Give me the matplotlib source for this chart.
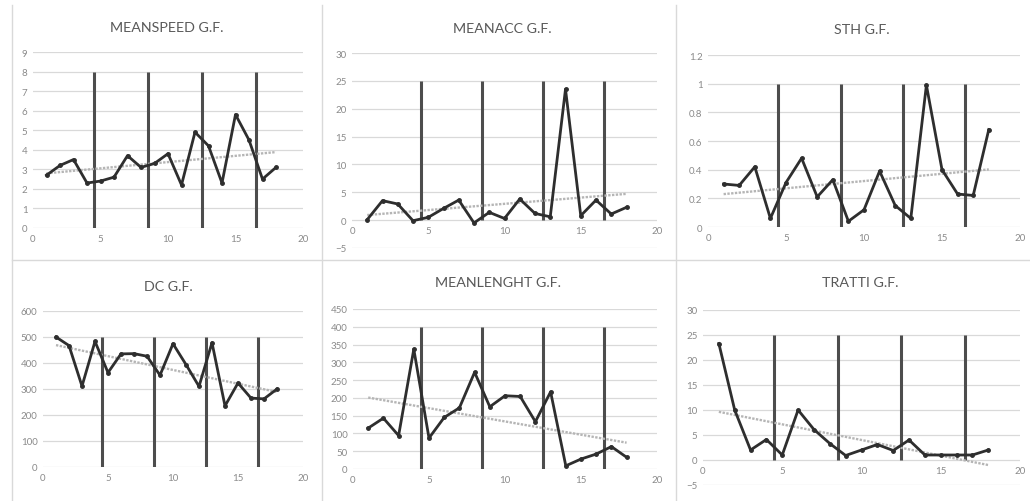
import matplotlib
matplotlib.use("Agg")
import matplotlib.pyplot as plt
from matplotlib.lines import Line2D
import numpy as np

plt.rcParams['font.family'] = ['Lato', 'DejaVu Sans']

W, H = 1030, 502

x = np.arange(1, 19)
meanspeed = [2.7, 3.2, 3.5, 2.3, 2.4, 2.6, 3.7, 3.1, 3.3, 3.8, 2.2, 4.9, 4.2, 2.3, 5.8, 4.5, 2.5, 3.1]
meanacc = [0.1, 3.5, 2.9, -0.1, 0.5, 2.1, 3.6, -0.5, 1.4, 0.3, 3.8, 1.2, 0.6, 23.5, 0.8, 3.6, 1.1, 2.3]
sth = [0.30, 0.29, 0.42, 0.06, 0.31, 0.48, 0.21, 0.33, 0.04, 0.12, 0.39, 0.15, 0.06, 0.99, 0.40, 0.23, 0.22, 0.68]
dc = [500, 467, 311, 483, 363, 435, 436, 426, 353, 474, 394, 310, 478, 235, 323, 265, 262, 300]
meanlenght = [115, 143, 94, 337, 87, 145, 172, 272, 175, 206, 204, 133, 217, 9, 28, 42, 63, 33]
tratti = [23.3, 10, 2, 4.1, 1, 10, 6.1, 3.3, 0.9, 2, 3.1, 1.9, 4, 1, 1, 1, 1, 2]

titles = ["MEANSPEED G.F.", "MEANACC G.F.", "STH G.F.",
          "DC G.F.", "MEANLENGHT G.F.", "TRATTI G.F."]
series = [meanspeed, meanacc, sth, dc, meanlenght, tratti]
ylims = [(0, 9), (-5, 30), (0, 1.2), (0, 600), (0, 450), (-5, 30)]
ysteps = [1, 5, 0.2, 100, 50, 5]
sep_x = [4.5, 8.5, 12.5, 16.5]
sep_top = [8, 25, 1, 500, 400, 25]

# plot-area boxes in pixels: left, right, top, bottom
boxes = [(33, 303, 53, 229), (352, 657, 54, 249), (708, 1020, 56, 228),
         (43, 303, 312, 468), (353, 657, 310, 470), (703, 1020, 311, 486)]
title_pos = [(167, 28), (502, 29), (862, 30), (168, 287), (498, 283), (860, 283)]

fig = plt.figure(figsize=(W / 100, H / 100), dpi=100)

# chart borders
for xx in [12, 322, 676]:
    fig.add_artist(Line2D([xx / W, xx / W], [0, 1 - 6 / H], color='#d9d9d9', lw=1))
fig.add_artist(Line2D([12 / W, 1], [1 - 261 / H, 1 - 261 / H], color='#d9d9d9', lw=1))

for i in range(6):
    l, r, t, b = boxes[i]
    ax = fig.add_axes([l / W, 1 - b / H, (r - l) / W, (b - t) / H])
    y = series[i]
    lo, hi = ylims[i]
    ax.set_xlim(0, 20)
    ax.set_ylim(lo, hi)
    ticks = np.arange(lo, hi + ysteps[i] / 2, ysteps[i])
    ax.set_yticks(ticks)
    if ysteps[i] < 1:
        ax.set_yticklabels([f"{v:g}" for v in np.round(ticks, 1)])
    ax.set_xticks([0, 5, 10, 15, 20])
    for v in ticks:
        ax.axhline(v, color='#d9d9d9', lw=0.9, zorder=0)
    for s in ax.spines.values():
        s.set_visible(False)
    if lo < 0:
        ax.spines['bottom'].set_position(('data', 0))
    ax.tick_params(length=0, labelsize=7, colors='#8a8a8a', pad=4)

    # separators
    ax.vlines(sep_x, 0, sep_top[i], color='#4d4d4d', lw=2.2, zorder=2)
    # trendline
    k, c = np.polyfit(x, y, 1)
    ax.plot(x, k * x + c, color='#b5b5b5', lw=1.7, ls=(0, (1, 0.6)), zorder=3)
    ax.plot(x, y, color='#2e2e2e', lw=2.0, marker='o', ms=2.5, zorder=4)

    tx, ty = title_pos[i]
    fig.text(tx / W, 1 - ty / H, titles[i], ha='center', va='center',
             fontsize=10.3, color='#595959')

fig.savefig("out.png", dpi=100, facecolor='white')
